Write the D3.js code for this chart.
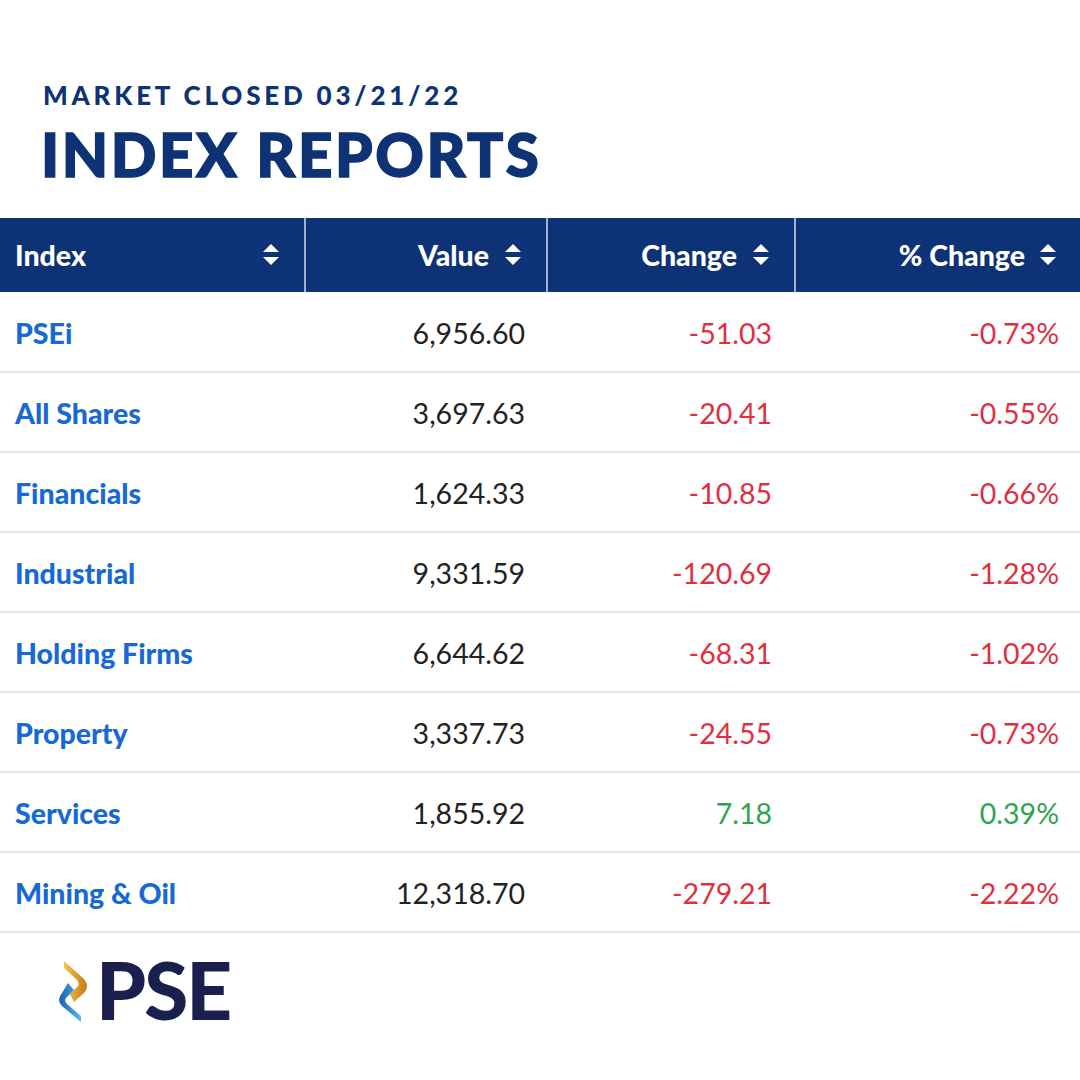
<!DOCTYPE html>
<html><head><meta charset="utf-8">
<script src="https://cdn.jsdelivr.net/npm/d3@7"></script>
<style>body{margin:0;background:#fff}</style>
</head><body><div id="chart"></div>
<script>
var names = ["PSEi","All Shares","Financials","Industrial","Holding Firms","Property","Services","Mining & Oil"];
var values = [6956.60,3697.63,1624.33,9331.59,6644.62,3337.73,1855.92,12318.70];
var changes = [-51.03,-20.41,-10.85,-120.69,-68.31,-24.55,7.18,-279.21];
var pctChanges = [-0.73,-0.55,-0.66,-1.28,-1.02,-0.73,0.39,-2.22];
var headers = ["Index","Value","Change","% Change"];

var width = 1080, height = 1080;
var navy = "#0d3275", red = "#e0303f", green = "#2ea44f", blue = "#1769d6";
var svg = d3.select("#chart").append("svg").attr("width", width).attr("height", height)
        .style("font-family", "Lato");

svg.append("text").attr("x", 43).attr("y", 105).attr("fill", navy)
        .attr("font-size", 26).attr("font-weight", 900).attr("letter-spacing", 3.8)
        .text("MARKET CLOSED 03/21/22");
svg.append("text").attr("x", 41).attr("y", 177).attr("fill", navy)
        .attr("font-size", 60).attr("font-weight", 900).attr("letter-spacing", 2.6)
        .attr("stroke", navy).attr("stroke-width", 1.5)
        .text("INDEX REPORTS");

var y = d3.scaleBand().domain(d3.range(names.length)).range([292, 932]);
var colEdges = [0, 305, 547, 795, 1080];

// header
svg.append("rect").attr("x", 0).attr("y", 218).attr("width", width).attr("height", 74).attr("fill", navy);
for (var i = 1; i < 4; i++) {
    svg.append("line").attr("x1", colEdges[i]).attr("x2", colEdges[i]).attr("y1", 218).attr("y2", 292)
            .attr("stroke", "#d8dde6").attr("stroke-width", 1.5);
}
var hText = [[15, "start"], [489, "end"], [737, "end"], [1025, "end"]];
var arrowX = [271, 513, 761, 1048];
headers.forEach(function (h, i) {
    svg.append("text").attr("x", hText[i][0]).attr("y", 266).attr("text-anchor", hText[i][1])
            .attr("fill", "#fff").attr("font-size", 28.5).attr("font-weight", 900).text(h);
    var ax = arrowX[i];
    svg.append("path").attr("fill", "#fff")
            .attr("d", "M" + (ax - 8) + ",252 L" + ax + ",244 L" + (ax + 8) + ",252 Z M" + (ax - 8) + ",257 L" + ax + ",265 L" + (ax + 8) + ",257 Z");
});

// rows
var rows = svg.selectAll(".row").data(names).enter().append("g")
        .attr("transform", function (d, i) { return "translate(0," + y(i) + ")"; });
rows.append("line").attr("x1", 0).attr("x2", width).attr("y1", y.bandwidth()).attr("y2", y.bandwidth())
        .attr("stroke", "#dcdcdc").attr("stroke-width", 1.5);
rows.append("text").attr("x", 15).attr("y", 52).attr("fill", blue).attr("font-size", 28.5)
        .attr("font-weight", 900).text(function (d) { return d; });
var fmt = d3.format(",.2f");
function num(v) { return (v < 0 ? "-" : "") + Math.abs(v).toFixed(2); }
rows.append("text").attr("x", 525).attr("y", 52).attr("text-anchor", "end").attr("fill", "#222")
        .attr("font-size", 28.5).text(function (d, i) { return fmt(values[i]); });
rows.append("text").attr("x", 772).attr("y", 52).attr("text-anchor", "end")
        .attr("fill", function (d, i) { return changes[i] < 0 ? red : green; })
        .attr("font-size", 28.5).text(function (d, i) { return num(changes[i]); });
rows.append("text").attr("x", 1059).attr("y", 52).attr("text-anchor", "end")
        .attr("fill", function (d, i) { return pctChanges[i] < 0 ? red : green; })
        .attr("font-size", 28.5).text(function (d, i) { return num(pctChanges[i]) + "%"; });

// logo
var defs = svg.append("defs");
var g1 = defs.append("linearGradient").attr("id", "gold").attr("x1", 0).attr("x2", 1);
g1.append("stop").attr("offset", 0).attr("stop-color", "#f2c552");
g1.append("stop").attr("offset", 1).attr("stop-color", "#c97a10");
var g2 = defs.append("linearGradient").attr("id", "bl").attr("x1", 0).attr("x2", 1);
g2.append("stop").attr("offset", 0).attr("stop-color", "#1a5fb4");
g2.append("stop").attr("offset", 1).attr("stop-color", "#5ab8ee");
svg.append("path").attr("fill", "url(#gold)").attr("d", "M64,961 L84,979 Q90,986 84,993 L74,1002 L70,994 L78,986 Q80,983 76,979 L64,968 Z");
svg.append("path").attr("fill", "url(#bl)").attr("d", "M68,983 L74,990 L66,998 Q64,1001 67,1004 L81,1016 L81,1022 L62,1006 Q56,1000 62,993 Z");
svg.append("text").attr("x", 96).attr("y", 1020).attr("fill", "#1a1f4e").attr("font-size", 80)
        .attr("font-weight", 900).attr("letter-spacing", -2).text("PSE");
</script></body></html>
